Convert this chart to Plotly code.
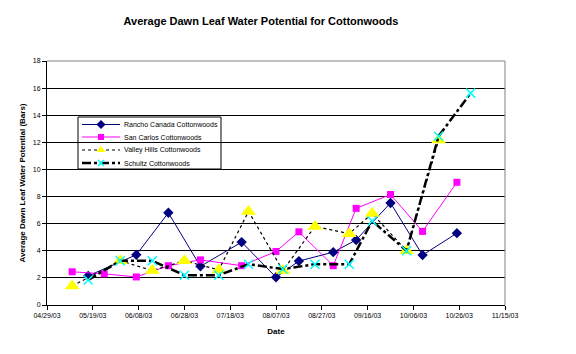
import copy
import plotly.graph_objects as go

# ---- data ----
rancho_dates = ["2003-05-17", "2003-06-07", "2003-06-21", "2003-07-05", "2003-07-23", "2003-08-07",
                "2003-08-17", "2003-09-01", "2003-09-11", "2003-09-26", "2003-10-10", "2003-10-25"]
rancho_vals = [2.15, 3.7, 6.8, 2.85, 4.64, 2.05, 3.24, 3.9, 4.8, 7.53, 3.68, 5.3]

carlos_dates = ["2003-05-10", "2003-05-24", "2003-06-07", "2003-06-21", "2003-07-05", "2003-07-23",
                "2003-08-07", "2003-08-17", "2003-09-01", "2003-09-11", "2003-09-26", "2003-10-10", "2003-10-25"]
carlos_vals = [2.45, 2.3, 2.07, 2.9, 3.33, 2.9, 3.95, 5.4, 2.9, 7.13, 8.15, 5.43, 9.05]

valley_dates = ["2003-05-10", "2003-05-31", "2003-06-14", "2003-06-28", "2003-07-13", "2003-07-26",
                "2003-08-10", "2003-08-24", "2003-09-08", "2003-09-18", "2003-10-03", "2003-10-17"]
valley_vals = [1.4, 3.26, 2.54, 3.26, 2.59, 6.9, 2.54, 5.8, 5.26, 6.75, 4.0, 12.17]

schultz_dates = ["2003-05-17", "2003-05-31", "2003-06-14", "2003-06-28", "2003-07-13", "2003-07-26",
                 "2003-08-10", "2003-08-24", "2003-09-08", "2003-09-18", "2003-10-03", "2003-10-17", "2003-10-31"]
schultz_vals = [1.85, 3.26, 3.26, 2.2, 2.2, 3.01, 2.65, 3.01, 3.01, 6.2, 4.0, 12.45, 15.63]

series_names = ["Rancho Canada Cottonwoods", "San Carlos Cottonwoods",
                "Valley Hills Cottonwoods", "Schultz Cottonwoods"]

FONT = "Liberation Sans, Arial, sans-serif"
W, H = 576, 354
ML, MR, MT, MB = 47, 71, 61, 49
PX0, PX1 = ML, W - MR          # plot area in pixels
PY0, PY1 = MT, H - MB

styles = [
    dict(line=dict(color="#000080", width=1),
         marker=dict(symbol="diamond", size=8, color="#000080")),
    dict(line=dict(color="#FF00FF", width=1),
         marker=dict(symbol="square", size=7, color="#FF00FF")),
    dict(line=dict(color="#000000", width=1.2, dash="dot"),
         marker=dict(symbol="triangle-up", size=13, color="#FFFF00")),
    dict(line=dict(color="#000000", width=2.5, dash="dashdot"),
         marker=dict(symbol="x-thin", size=9, color="#00FFFF",
                     line=dict(color="#00FFFF", width=1.5))),
]
legend_marker_sizes = [7, 6, 8, 6]

fig = go.Figure()
for name, xs, ys, st in zip(series_names,
                            [rancho_dates, carlos_dates, valley_dates, schultz_dates],
                            [rancho_vals, carlos_vals, valley_vals, schultz_vals],
                            styles):
    fig.add_trace(go.Scatter(x=xs, y=ys, name=name, mode="lines+markers",
                             line=st["line"], marker=st["marker"], showlegend=False,
                             cliponaxis=False))


def px(x):
    return (x - PX0) / (PX1 - PX0)


def py(y):
    return (PY1 - y) / (PY1 - PY0)


# ---- hand-built legend (compact, like the original) ----
LB = dict(x0=78, x1=221, y0=117, y1=169)
row_y = [124.5, 137.0, 150.0, 163.0]
fig.add_shape(type="rect", xref="paper", yref="paper", layer="between",
              x0=px(LB["x0"]), x1=px(LB["x1"]), y0=py(LB["y1"]), y1=py(LB["y0"]),
              fillcolor="white", line=dict(color="black", width=1))
for name, st, ry, ms in zip(series_names, styles, row_y, legend_marker_sizes):
    fig.add_shape(type="line", xref="paper", yref="paper", layer="between",
                  x0=px(82), x1=px(120), y0=py(ry), y1=py(ry),
                  line=st["line"])
    fig.add_annotation(text=name, xref="paper", yref="paper", x=px(122), y=py(ry),
                       xanchor="left", yanchor="middle", showarrow=False,
                       font=dict(family=FONT, size=7, color="black"))
    mk = copy.deepcopy(st["marker"])
    mk["size"] = ms
    fig.add_trace(go.Scatter(x=[px(101)], y=[py(ry)], xaxis="x2", yaxis="y2",
                             mode="markers", marker=mk, showlegend=False,
                             hoverinfo="skip", cliponaxis=False))

fig.update_layout(
    width=W, height=H,
    margin=dict(l=ML, r=MR, t=MT, b=MB),
    paper_bgcolor="white", plot_bgcolor="white",
    font=dict(family=FONT, size=8, color="black"),
    title=dict(text="<b>Average Dawn Leaf Water Potential for Cottonwoods</b>",
               font=dict(family=FONT, size=11, color="black"),
               x=0.453, xanchor="center", y=0.94, yanchor="middle"),
    showlegend=False,
    xaxis=dict(
        type="date", range=["2003-04-29", "2003-11-15"],
        tick0="2003-04-29", dtick=20 * 86400000, tickformat="%m/%d/%y",
        ticks="outside", ticklen=4, tickcolor="black", tickwidth=1,
        showline=True, linecolor="black", linewidth=1, mirror=False,
        showgrid=False, zeroline=False,
        tickfont=dict(family=FONT, size=7, color="black"),
        title=dict(text="<b>Date</b>", font=dict(family=FONT, size=8), standoff=9)),
    yaxis=dict(
        range=[0, 18], dtick=2, tick0=0,
        ticks="outside", ticklen=4, tickcolor="black", tickwidth=1,
        showline=True, linecolor="black", linewidth=1,
        showgrid=True, gridcolor="black", gridwidth=1, zeroline=False,
        tickfont=dict(family=FONT, size=7, color="black"),
        title=dict(text="<b>Average Dawn Leaf Water Potential (Bars)</b>",
                   font=dict(family=FONT, size=8), standoff=6)),
    xaxis2=dict(overlaying="x", range=[0, 1], visible=False, fixedrange=True),
    yaxis2=dict(overlaying="y", range=[0, 1], visible=False, fixedrange=True),
)

# gray plot-area border on top and right
fig.add_shape(type="line", xref="paper", yref="paper", x0=0, x1=1, y0=1, y1=1,
              line=dict(color="#808080", width=1))
fig.add_shape(type="line", xref="paper", yref="paper", x0=1, x1=1, y0=0, y1=1,
              line=dict(color="#808080", width=1))

fig.write_html("out.html")
